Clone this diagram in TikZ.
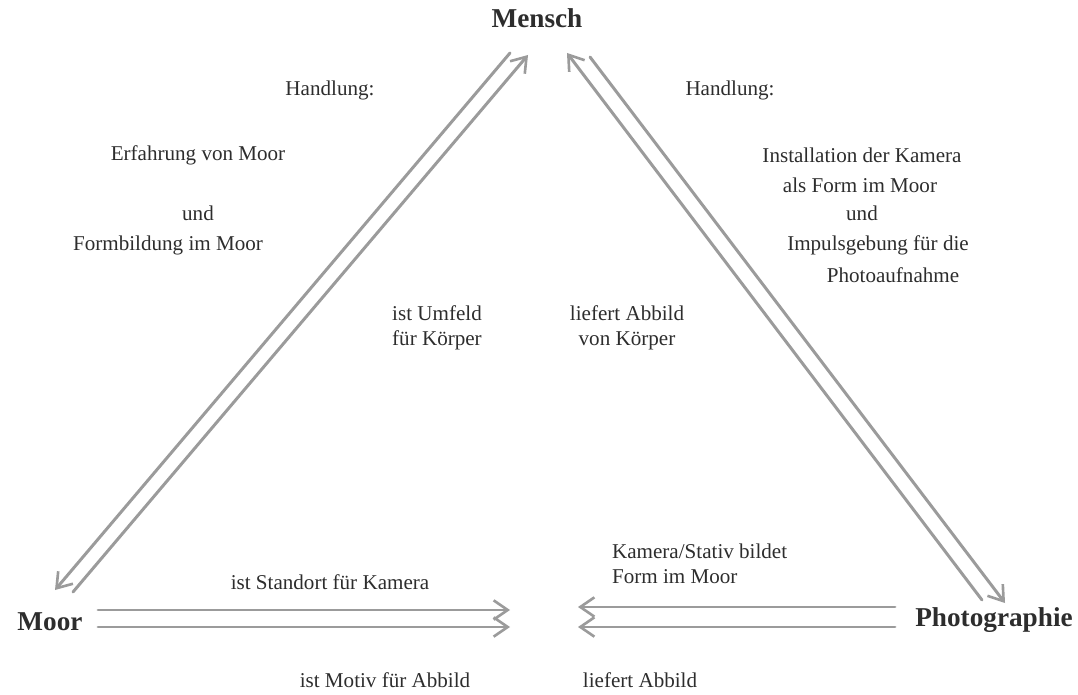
\documentclass[tikz,border=0pt]{standalone}
\usepackage{fontspec}
\setmainfont{Liberation Serif}
\usetikzlibrary{arrows.meta}
\definecolor{pencil}{RGB}{155, 155, 155}
\definecolor{ink}{RGB}{45, 45, 45}
\tikzset{
  arr/.style={draw=pencil, line width=1.7pt, line cap=round,
    -{Straight Barb[length=8pt, width=11pt, line width=1.5pt]}},
  pole/.style={font=\fontsize{15.5}{17}\selectfont\bfseries, text=ink},
  txt/.style={font=\fontsize{12}{14}\selectfont, text=ink, align=center, inner sep=1pt}
}

\begin{document}
\begin{tikzpicture}[x=0.02cm, y=-0.02cm]
  \useasboundingbox (0, 0) rectangle (1078, 695);

  % the three poles
  \node[pole] (mensch) at (537, 18) {Mensch};
  \node[pole] (moor) at (50, 622) {Moor};
  \node[pole] (photo) at (994, 620) {Photographie};

  % end points of the arrows
  \coordinate (lmA) at (55, 590);
  \coordinate (lmB) at (510, 53);
  \coordinate (lmC) at (73, 592);
  \coordinate (lmD) at (528, 55);

  \coordinate (rmA) at (982, 600);
  \coordinate (rmB) at (567, 53);
  \coordinate (rmC) at (590, 57);
  \coordinate (rmD) at (1005, 603);

  \coordinate (blA) at (98, 610);
  \coordinate (blB) at (510, 610);
  \coordinate (blC) at (98, 627);
  \coordinate (blD) at (510, 627);

  \coordinate (brA) at (895, 607);
  \coordinate (brB) at (578, 607);
  \coordinate (brC) at (895, 627);
  \coordinate (brD) at (578, 627);

  \draw[arr] (lmB) -- (lmA);
  \draw[arr] (lmC) -- (lmD);
  \draw[arr] (rmA) -- (rmB);
  \draw[arr] (rmC) -- (rmD);
  \draw[arr] (blA) -- (blB);
  \draw[arr] (blC) -- (blD);
  \draw[arr] (brA) -- (brB);
  \draw[arr] (brC) -- (brD);

  % left side
  \node[txt] (hl) at (330, 90) {Handlung:};
  \node[txt] (erf) at (198, 155) {Erfahrung von Moor};
  \node[txt] (undl) at (198, 213) {und};
  \node[txt] (form) at (168, 245) {Formbildung im Moor};

  % right side
  \node[txt] (hr) at (730, 90) {Handlung:};
  \node[txt] (inst) at (862, 155) {Installation der Kamera};
  \node[txt] (als) at (860, 185) {als Form im Moor};
  \node[txt] (undr) at (862, 213) {und};
  \node[txt] (imp) at (878, 245) {Impulsgebung für die};
  \node[txt] (auf) at (893, 275) {Photoaufnahme};

  % middle
  \node[txt] (umf) at (437, 328) {ist Umfeld\\für Körper};
  \node[txt] (abk) at (627, 328) {liefert Abbild\\von Körper};

  % bottom
  \node[txt] (stand) at (330, 582) {ist Standort für Kamera};
  \node[txt, align=left, anchor=west] (stativ) at (610, 564) {Kamera/Stativ bildet\\Form im Moor};
  \node[txt] (motiv) at (385, 680) {ist Motiv für Abbild};
  \node[txt] (abb) at (640, 680) {liefert Abbild};
\end{tikzpicture}
\end{document}
